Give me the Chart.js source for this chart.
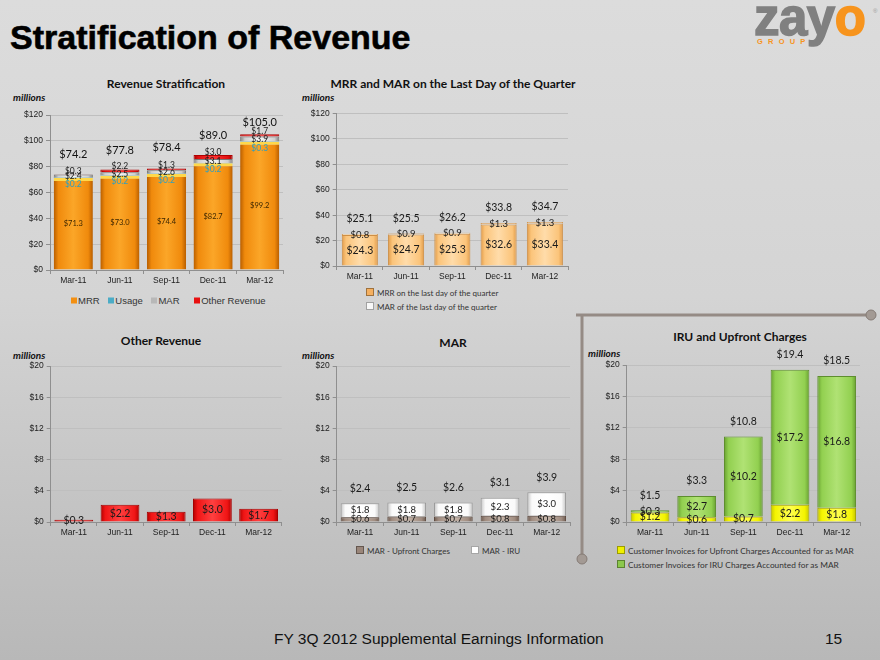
<!DOCTYPE html>
<html>
<head>
<meta charset="utf-8">
<script src="https://cdn.jsdelivr.net/npm/chart.js@4.4.1/dist/chart.umd.min.js"></script>
<style>
html, body { margin: 0; padding: 0; }
body {
    width: 880px; height: 660px; position: relative; overflow: hidden;
    background: linear-gradient(#dcdcdc 0%, #d4d4d4 45%, #b8b8b8 100%);
    font-family: Lato, sans-serif;
}
canvas, .abs { position: absolute; }
.title {
    position: absolute; left: 10px; top: 18px; margin: 0; line-height: 34px;
    font: bold 34px 'Liberation Sans', Arial, sans-serif; color: #000;
    -webkit-text-stroke: 0.6px #000; white-space: nowrap;
}
.ctitle {
    position: absolute; font: bold 12px Lato, sans-serif; color: #111; line-height: 1;
    white-space: nowrap; transform: translate(-50%, -50%);
}
.mil { position: absolute; font: italic bold 10px Lato, sans-serif; color: #111; line-height: 1; transform: translateY(-50%); }
.leg { position: absolute; color: #333; white-space: nowrap; line-height: 1; transform: translateY(-50%); }
.sw { display: inline-block; width: 6px; height: 6px; margin-right: 3px; border: 1px solid rgba(0,0,0,0.35); vertical-align: 0; }
.foot { position: absolute; top: 631px; font: 15.5px 'Liberation Sans', Arial, sans-serif; color: #111; line-height: 16px; white-space: nowrap; }
</style>
</head>
<body>

<div class="title">Stratification of Revenue</div>

<div class="abs" style="left:754px;top:-8px;font:bold 51px 'Liberation Sans',Arial;line-height:51px;color:#808080;letter-spacing:-0.5px;-webkit-text-stroke:1.5px #808080;">zay<span style="color:#f7941d;-webkit-text-stroke-color:#f7941d;">o</span></div>
<div class="abs" style="left:757px;top:38px;font:bold 7.5px 'Liberation Sans',Arial;line-height:8px;color:#f7941d;letter-spacing:5.2px;">GROUP</div>
<div class="abs" style="left:873px;top:8px;font:6px 'Liberation Sans';color:#999;">&reg;</div>

<svg class="abs" style="left:0;top:0" width="880" height="660">
    <line x1="576" y1="315" x2="870" y2="315" stroke="#958b85" stroke-width="3"/>
    <circle cx="871" cy="315" r="5" fill="#a39a94" stroke="#857b75" stroke-width="1"/>
    <line x1="582" y1="315" x2="582" y2="558" stroke="#958b85" stroke-width="3"/>
    <circle cx="582" cy="559" r="5" fill="#a39a94" stroke="#857b75" stroke-width="1"/>
</svg>

<div class="ctitle" style="left:166px;top:84px;">Revenue Stratification</div>
<div class="mil" style="left:13px;top:97px;">millions</div>
<div class="ctitle" style="left:453px;top:84px;">MRR and MAR on the Last Day of the Quarter</div>
<div class="mil" style="left:302px;top:97px;">millions</div>
<div class="ctitle" style="left:161px;top:341px;">Other Revenue</div>
<div class="mil" style="left:13px;top:355px;">millions</div>
<div class="ctitle" style="left:453px;top:343px;">MAR</div>
<div class="mil" style="left:302px;top:355px;">millions</div>
<div class="ctitle" style="left:740px;top:337px;">IRU and Upfront Charges</div>
<div class="mil" style="left:588px;top:353px;">millions</div>

<div class="leg" style="left:71px;top:300px;font:9.5px 'Liberation Sans',Arial;">
    <span class="sw" style="background:#f39012;border:0;margin-right:1px;"></span>MRR
    <span class="sw" style="background:#4bacc6;border:0;margin-left:6px;margin-right:1px;"></span>Usage
    <span class="sw" style="background:#b8b8b8;border:0;margin-left:6px;margin-right:1px;"></span>MAR
    <span class="sw" style="background:#e81010;border:0;margin-left:12px;margin-right:1px;"></span>Other Revenue
</div>
<div class="leg" style="left:366px;top:293px;font:8px Lato;"><span class="sw" style="background:#f5b060;"></span>MRR on the last day of the quarter</div>
<div class="leg" style="left:366px;top:307px;font:8px Lato;"><span class="sw" style="background:#f8f8f8;"></span>MAR of the last day of the quarter</div>
<div class="leg" style="left:356px;top:551px;font:8px Lato;"><span class="sw" style="background:#9a867a;"></span>MAR - Upfront Charges</div>
<div class="leg" style="left:471px;top:551px;font:8px Lato;"><span class="sw" style="background:#ffffff;"></span>MAR - IRU</div>
<div class="leg" style="left:617px;top:551px;font:8.3px Lato;"><span class="sw" style="background:#f0f000;"></span>Customer Invoices for Upfront Charges Accounted for as MAR</div>
<div class="leg" style="left:617px;top:565px;font:8.3px Lato;"><span class="sw" style="background:#8cc84c;"></span>Customer Invoices for IRU Charges Accounted for as MAR</div>

<canvas id="revChart"></canvas>
<canvas id="lastDayChart"></canvas>
<canvas id="otherChart"></canvas>
<canvas id="marChart"></canvas>
<canvas id="iruChart"></canvas>

<div class="foot" style="left:274px;">FY 3Q 2012 Supplemental Earnings Information</div>
<div class="foot" style="left:825px;">15</div>

<script>
const categories = ['Mar-11', 'Jun-11', 'Sep-11', 'Dec-11', 'Mar-12'];
const ticks120 = [0, 20, 40, 60, 80, 100, 120];
const ticks20 = [0, 4, 8, 12, 16, 20];

// Revenue Stratification
const mrr = [71.3, 73.0, 74.4, 82.7, 99.2];
const usage = [0.2, 0.2, 0.2, 0.2, 0.3];
const mar = [2.4, 2.5, 2.6, 3.1, 3.9];
const otherRevenue = [0.3, 2.2, 1.3, 3.0, 1.7];
const revenueTotals = [74.2, 77.8, 78.4, 89.0, 105.0];

// MRR and MAR on the last day of the quarter
const mrrLastDay = [24.3, 24.7, 25.3, 32.6, 33.4];
const marLastDay = [0.8, 0.9, 0.9, 1.3, 1.3];
const lastDayTotals = [25.1, 25.5, 26.2, 33.8, 34.7];

// MAR
const marUpfront = [0.6, 0.7, 0.7, 0.8, 0.8];
const marIru = [1.8, 1.8, 1.8, 2.3, 3.0];
const marTotals = [2.4, 2.5, 2.6, 3.1, 3.9];

// IRU and Upfront Charges
const upfrontInvoices = [1.2, 0.6, 0.7, 2.2, 1.8];
const iruInvoices = [0.3, 2.7, 10.2, 17.2, 16.8];
const iruTotals = [1.5, 3.3, 10.8, 19.4, 18.5];

const money = v => '$' + v.toFixed(1);
const tickFont = { family: "'Liberation Sans', Arial, sans-serif", size: 8.5 };

// horizontal shading across each bar, to fake the bevel look
function bevel(dark, mid, light, pct) {
    return function(c) {
        const chart = c.chart, xs = chart.scales.x;
        if (!chart.chartArea || !xs || c.dataIndex === undefined) return mid;
        const cx = xs.getPixelForValue(c.dataIndex);
        const half = xs.width / categories.length * pct / 2;
        const g = chart.ctx.createLinearGradient(cx - half, 0, cx + half, 0);
        g.addColorStop(0, dark);
        g.addColorStop(0.12, mid);
        g.addColorStop(0.5, light);
        g.addColorStop(0.88, mid);
        g.addColorStop(1, dark);
        return g;
    };
}

function valueLabels(specs) {
    return {
        id: 'valueLabels',
        afterDatasetsDraw(chart) {
            const ctx = chart.ctx;
            ctx.save();
            ctx.textAlign = 'center';
            ctx.textBaseline = 'middle';
            specs.forEach(s => {
                const meta = chart.getDatasetMeta(s.ds);
                meta.data.forEach((bar, i) => {
                    let y = bar.y;
                    if (s.at === 'center') y = (bar.y + bar.base) / 2;
                    if (s.at === 'base') y = bar.base;
                    const dy = Array.isArray(s.dy) ? s.dy[i] : (s.dy || 0);
                    ctx.font = s.font;
                    ctx.fillStyle = s.color || '#1a1a1a';
                    ctx.fillText(money(s.values[i]), bar.x, y + dy);
                });
            });
            ctx.restore();
        }
    };
}

function build(id, box, area, datasets, tickVals, pct, specs) {
    const cv = document.getElementById(id);
    cv.width = box.w;
    cv.height = box.h;
    cv.style.left = box.x + 'px';
    cv.style.top = box.y + 'px';
    const YW = 38, XH = 20;
    return new Chart(cv, {
        type: 'bar',
        data: {
            labels: categories,
            datasets: datasets.map(d => Object.assign({ barPercentage: pct, categoryPercentage: 1 }, d))
        },
        options: {
            responsive: false,
            animation: false,
            layout: {
                padding: {
                    left: area.l - box.x - YW,
                    right: box.x + box.w - area.r,
                    top: area.t - box.y,
                    bottom: box.y + box.h - area.b - XH
                }
            },
            plugins: { legend: { display: false }, tooltip: { enabled: false } },
            scales: {
                x: {
                    stacked: true,
                    afterFit: s => { s.height = XH; },
                    grid: { drawOnChartArea: false, color: '#8f8f8f', tickLength: 4 },
                    border: { color: '#8f8f8f' },
                    ticks: { color: '#222', font: tickFont, padding: 2 }
                },
                y: {
                    stacked: true,
                    min: 0,
                    max: tickVals[tickVals.length - 1],
                    afterFit: s => { s.width = YW; },
                    afterBuildTicks: s => { s.ticks = tickVals.map(v => ({ value: v })); },
                    grid: { color: '#bfbfbf', tickLength: 4, tickColor: '#8f8f8f' },
                    border: { color: '#8f8f8f' },
                    ticks: { color: '#222', font: tickFont, padding: 3, callback: v => '$' + v }
                }
            }
        },
        plugins: [valueLabels(specs)]
    });
}

build('revChart', { x: 0, y: 95, w: 290, h: 195 }, { l: 50, r: 283, t: 115, b: 270 }, [
    { data: mrr, backgroundColor: bevel('#b85e00', '#f08a0c', '#fba628', 0.84), borderColor: '#ffd84a', borderWidth: { top: 3, left: 0, right: 0, bottom: 0 } },
    { data: usage, backgroundColor: '#4bacc6' },
    { data: mar, backgroundColor: bevel('#7a7a7a', '#cfcfcf', '#f6f6f6', 0.84), borderColor: '#777', borderWidth: 1 },
    { data: otherRevenue, backgroundColor: bevel('#a00000', '#e01010', '#ff3535', 0.84), borderColor: '#b00000', borderWidth: 1 }
], ticks120, 0.84, [
    { ds: 0, values: mrr, at: 'center', font: '7.5px Lato', color: '#3d2600' },
    { ds: 1, values: usage, at: 'base', dy: 6, font: '8.5px Lato', color: '#2f9fbf' },
    { ds: 2, values: mar, at: 'center', font: '8.5px Lato' },
    { ds: 3, values: otherRevenue, at: 'top', dy: -3, font: '8.5px Lato' },
    { ds: 3, values: revenueTotals, at: 'top', dy: [-20, -19, -21, -20, -12], font: '11px Lato', color: '#111' }
]);

build('lastDayChart', { x: 290, y: 95, w: 290, h: 191 }, { l: 336.7, r: 568, t: 113.5, b: 266 }, [
    { data: mrrLastDay, backgroundColor: bevel('#e09a48', '#fbc47a', '#ffdcaa', 0.78), borderColor: '#cf8f45', borderWidth: 1 },
    { data: marLastDay, backgroundColor: '#fff3dc', borderColor: '#cf8f45', borderWidth: 1 }
], ticks120, 0.78, [
    { ds: 0, values: mrrLastDay, at: 'center', font: '10.5px Lato' },
    { ds: 1, values: marLastDay, at: 'center', font: '9.5px Lato' },
    { ds: 1, values: lastDayTotals, at: 'top', dy: -15, font: '10.5px Lato' }
]);

build('otherChart', { x: 0, y: 345, w: 290, h: 197.7 }, { l: 50.7, r: 281.7, t: 366, b: 522.7 }, [
    { data: otherRevenue, backgroundColor: bevel('#b00000', '#f01515', '#ff4040', 0.84), borderColor: '#a50000', borderWidth: 1 }
], ticks20, 0.84, [
    { ds: 0, values: otherRevenue, at: 'center', font: '10.5px Lato' }
]);

build('marChart', { x: 290, y: 345, w: 290, h: 197.7 }, { l: 336.7, r: 570, t: 366, b: 522.7 }, [
    { data: marUpfront, backgroundColor: bevel('#6e5b50', '#a08c80', '#c8b8ac', 0.83), borderColor: '#5e4b40', borderWidth: 1 },
    { data: marIru, backgroundColor: bevel('#c4c4c4', '#fafafa', '#ffffff', 0.83), borderColor: '#9a9a9a', borderWidth: 1 }
], ticks20, 0.83, [
    { ds: 0, values: marUpfront, at: 'center', font: '9.5px Lato' },
    { ds: 1, values: marIru, at: 'center', font: '9.5px Lato' },
    { ds: 1, values: marTotals, at: 'top', dy: -15, font: '10.5px Lato' }
]);

build('iruChart', { x: 580, y: 340, w: 300, h: 202.7 }, { l: 626.7, r: 860, t: 365, b: 522.7 }, [
    { data: upfrontInvoices, backgroundColor: bevel('#c4c400', '#f4f400', '#ffff50', 0.83), borderColor: '#a6a600', borderWidth: 1 },
    { data: iruInvoices, backgroundColor: bevel('#68a030', '#92d050', '#b0e274', 0.83), borderColor: '#5e8e2e', borderWidth: 1 }
], ticks20, 0.83, [
    { ds: 0, values: upfrontInvoices, at: 'center', font: '10.5px Lato' },
    { ds: 1, values: iruInvoices, at: 'center', font: '10.5px Lato' },
    { ds: 1, values: iruTotals, at: 'top', dy: -15, font: '10.5px Lato' }
]);
</script>
</body>
</html>
